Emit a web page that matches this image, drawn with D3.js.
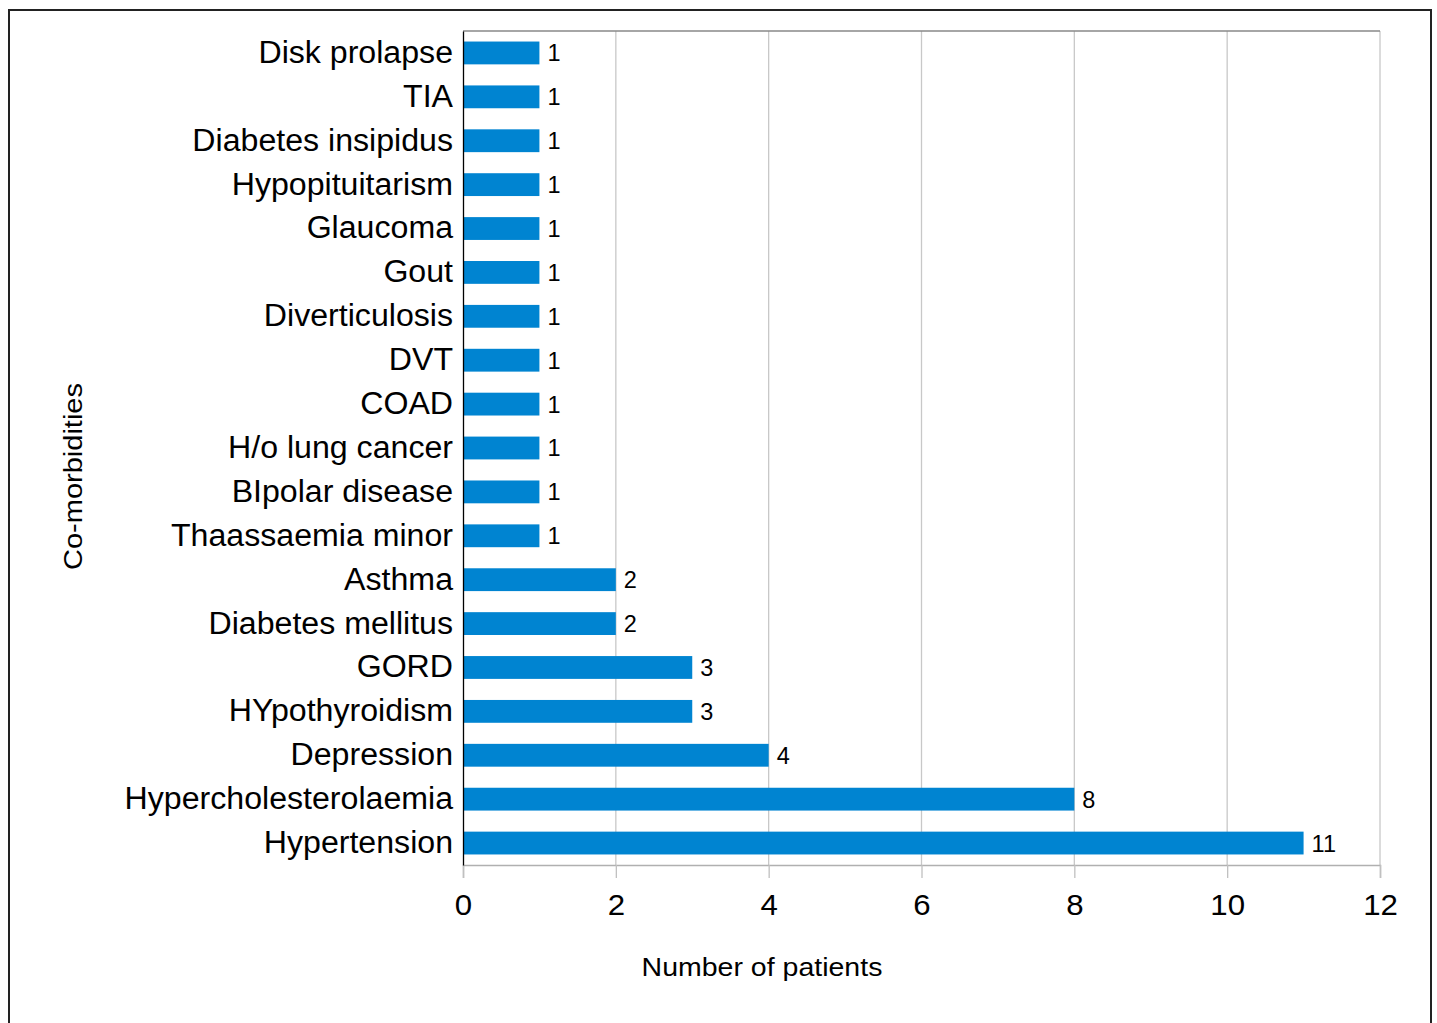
<!DOCTYPE html>
<html><head><meta charset="utf-8">
<script src="https://cdn.jsdelivr.net/npm/d3@7"></script>
<style>body{margin:0;background:#fff;}svg{display:block;font-family:"Liberation Sans",Arial,sans-serif;}</style>
</head><body>
<script>
const categories = ["Disk prolapse","TIA","Diabetes insipidus","Hypopituitarism","Glaucoma","Gout","Diverticulosis","DVT","COAD","H/o lung cancer","BIpolar disease","Thaassaemia minor","Asthma","Diabetes mellitus","GORD","HYpothyroidism","Depression","Hypercholesterolaemia","Hypertension"];
const values = [1,1,1,1,1,1,1,1,1,1,1,1,2,2,3,3,4,8,11];
const xTicks = [0,2,4,6,8,10,12];
const xTitle = "Number of patients";
const yTitle = "Co-morbidities";

const W = 1437, H = 1023;
const svg = d3.select("body").append("svg").attr("width", W).attr("height", H);
const L = 463, R = 1380, T = 31, B = 865;

function stretch(sel, f) {
  sel.each(function () {
    const len = this.getComputedTextLength();
    d3.select(this).attr("textLength", len * f).attr("lengthAdjust", "spacingAndGlyphs");
  });
}

svg.append("rect").attr("x", 9).attr("y", 10).attr("width", 1422).attr("height", 1040)
  .attr("fill", "none").attr("stroke", "#222").attr("stroke-width", 2);

const x = d3.scaleLinear().domain([0, 12]).range([L, R]);
const y = d3.scaleBand().domain(categories).range([T, B]).paddingInner(0.48).paddingOuter(0.24);

// gridlines
svg.append("g").selectAll("line").data(xTicks.slice(1)).join("line")
  .attr("x1", d => x(d)).attr("x2", d => x(d)).attr("y1", T).attr("y2", B)
  .attr("stroke", "#c8c8c8").attr("stroke-width", 1.3);
svg.append("line").attr("x1", L).attr("x2", R).attr("y1", T).attr("y2", T).attr("stroke", "#888").attr("stroke-width", 1.3);

// x axis
const xa = svg.append("g").attr("transform", `translate(0,${B})`)
  .call(d3.axisBottom(x).tickValues(xTicks).tickSize(13).tickPadding(16));
xa.select(".domain").attr("stroke", "#b0b0b0").attr("stroke-width", 1.5);
xa.selectAll(".tick line").attr("stroke", "#c0c0c0").attr("stroke-width", 1.3);
xa.selectAll(".tick text").attr("font-size", 30).attr("fill", "#000").attr("font-family", "Liberation Sans, Arial, sans-serif");
stretch(xa.selectAll(".tick text"), 1.04);

// bars
svg.append("g").selectAll("rect").data(categories).join("rect")
  .attr("x", x(0)).attr("y", d => y(d)).attr("height", y.bandwidth())
  .attr("width", (d, i) => x(values[i]) - x(0)).attr("fill", "#0084D1");

// y axis
const ya = svg.append("g").attr("transform", `translate(${L},0)`)
  .call(d3.axisLeft(y).tickSize(0).tickPadding(10));
ya.select(".domain").attr("stroke", "#000").attr("stroke-width", 1.3);
ya.selectAll(".tick text").attr("font-size", 31).attr("fill", "#000").attr("font-family", "Liberation Sans, Arial, sans-serif");
stretch(ya.selectAll(".tick text"), 1.036);

// value labels
svg.append("g").selectAll("text").data(categories).join("text")
  .attr("x", (d, i) => x(values[i]) + 8).attr("y", d => y(d) + y.bandwidth() / 2)
  .attr("dy", "0.36em").attr("font-size", 23.5).attr("fill", "#000")
  .text((d, i) => values[i]);

const xt = svg.append("text").attr("x", 762).attr("y", 976).attr("text-anchor", "middle")
  .attr("font-size", 25).attr("fill", "#000").text(xTitle);
stretch(xt, 1.14);
const yt = svg.append("text").attr("transform", "translate(82,476.5) rotate(-90)").attr("text-anchor", "middle")
  .attr("font-size", 25).attr("fill", "#000").text(yTitle);
stretch(yt, 1.16);
</script>
</body></html>
